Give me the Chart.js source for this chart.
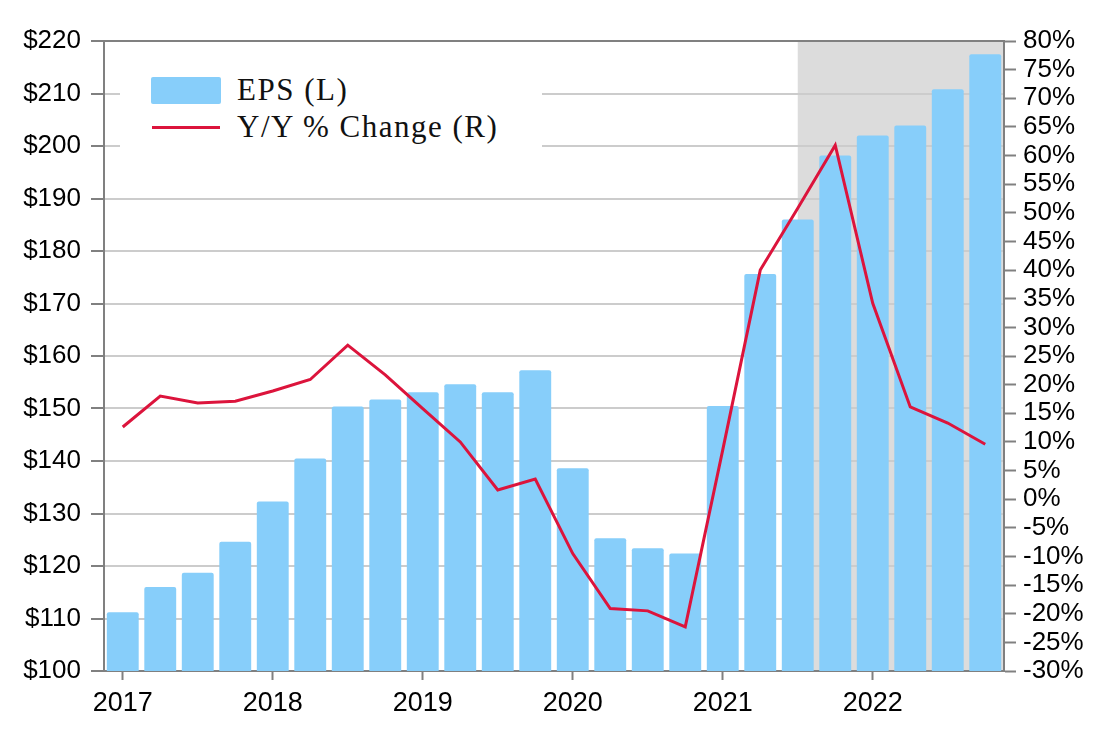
<!DOCTYPE html>
<html>
<head>
<meta charset="utf-8">
<script src="https://cdn.jsdelivr.net/npm/chart.js@4.4.1/dist/chart.umd.min.js"></script>
<style>
  html, body { margin: 0; padding: 0; background: #fff; }
  #wrap { position: relative; width: 1108px; height: 736px; }
  #legend {
    position: absolute; left: 120px; top: 55px; width: 422px; height: 110px;
    background: #fff;
  }
  .sw-bar { position: absolute; left: 31px; top: 22px; width: 70px; height: 27px; background: #87cefa; border-radius: 2px; }
  .sw-line { position: absolute; left: 32px; top: 71px; width: 68px; height: 3px; background: #dc143c; }
  .lg-text {
    position: absolute; left: 117px; font-family: "Liberation Serif", serif; font-size: 31px;
    line-height: normal; color: #111; letter-spacing: 1.5px; white-space: nowrap;
  }
</style>
</head>
<body>
<div id="wrap">
  <canvas id="chart"></canvas>
  <div id="legend">
    <div class="sw-bar"></div>
    <div class="lg-text" style="top:17px">EPS (L)</div>
    <div class="sw-line"></div>
    <div class="lg-text" style="top:54px">Y/Y % Change (R)</div>
  </div>
</div>
<script>
const quarters = [
  '2017 Q1', '2017 Q2', '2017 Q3', '2017 Q4',
  '2018 Q1', '2018 Q2', '2018 Q3', '2018 Q4',
  '2019 Q1', '2019 Q2', '2019 Q3', '2019 Q4',
  '2020 Q1', '2020 Q2', '2020 Q3', '2020 Q4',
  '2021 Q1', '2021 Q2', '2021 Q3', '2021 Q4',
  '2022 Q1', '2022 Q2', '2022 Q3', '2022 Q4'
];

// EPS, dollars (left axis)
const eps = [111.2, 116.0, 118.7, 124.6, 132.3, 140.5, 150.4, 151.7,
             153.1, 154.6, 153.1, 157.3, 138.6, 125.3, 123.4, 122.4,
             150.5, 175.6, 186.0, 198.2, 202.0, 203.9, 210.8, 217.5];

// year over year change, percent (right axis)
const yoyChange = [12.6, 18.0, 16.8, 17.1, 18.9, 20.9, 26.9, 21.7,
                   15.8, 10.0, 1.6, 3.5, -9.5, -19.1, -19.5, -22.3,
                   8.6, 40.0, 50.8, 61.8, 34.2, 16.1, 13.3, 9.6];

const shadeFrom = '2021 Q3'; // estimate period starts here

const tickFont = { family: '"Liberation Sans", Arial, sans-serif', size: 26 };
const axisGray = '#808080';

// grey estimate band + top frame line
const shadePlugin = {
  id: 'shade',
  beforeDraw(chart) {
    const { ctx, chartArea } = chart;
    const x = chart.scales.x.getPixelForValue(quarters.indexOf(shadeFrom));
    ctx.save();
    ctx.fillStyle = '#dcdcdc';
    ctx.fillRect(x, chartArea.top, chartArea.right - x, chartArea.bottom - chartArea.top);
    ctx.restore();
  },
  afterDraw(chart) {
    const { ctx, chartArea } = chart;
    ctx.save();
    ctx.strokeStyle = axisGray;
    ctx.lineWidth = 2;
    ctx.beginPath();
    ctx.moveTo(chartArea.left - 1, chartArea.top);
    ctx.lineTo(chartArea.right + 1, chartArea.top);
    ctx.stroke();
    ctx.restore();
  }
};

new Chart(document.getElementById('chart'), {
  type: 'bar',
  data: {
    labels: quarters,
    datasets: [
      {
        type: 'line',
        label: 'Y/Y % Change (R)',
        data: yoyChange,
        yAxisID: 'y1',
        borderColor: '#dc143c',
        borderWidth: 3,
        pointRadius: 0,
        tension: 0,
        order: 0
      },
      {
        label: 'EPS (L)',
        data: eps,
        yAxisID: 'y',
        backgroundColor: '#87cefa',
        borderRadius: 2,
        borderSkipped: 'bottom',
        barPercentage: 0.85,
        categoryPercentage: 1,
        order: 1
      }
    ]
  },
  options: {
    responsive: true,
    maintainAspectRatio: false,
    animation: false,
    layout: { padding: { top: 41, left: 0, right: 0, bottom: 0 } },
    plugins: { legend: { display: false }, tooltip: { enabled: false } },
    scales: {
      x: {
        grid: {
          offset: false,
          drawOnChartArea: false,
          tickLength: 9,
          tickWidth: 2,
          tickColor: c => (c.index % 4 === 0 ? axisGray : 'rgba(0,0,0,0)')
        },
        border: { color: axisGray, width: 2 },
        ticks: {
          autoSkip: false,
          maxRotation: 0,
          padding: 7,
          color: '#000',
          font: { family: tickFont.family, size: 27 },
          callback: (v, i) => (i % 4 === 0 ? quarters[i].slice(0, 4) : '')
        },
        afterFit: s => { s.height = 65; }
      },
      y: {
        position: 'left',
        min: 100, max: 220,
        ticks: {
          stepSize: 10,
          autoSkip: false,
          padding: 10,
          color: '#000',
          font: tickFont,
          callback: v => '$' + v
        },
        grid: { color: '#cccccc', lineWidth: 2, tickLength: 13, tickColor: axisGray, tickWidth: 2 },
        border: { color: axisGray, width: 2 },
        afterFit: s => { s.width = 104; }
      },
      y1: {
        position: 'right',
        min: -30, max: 80,
        ticks: {
          stepSize: 5,
          autoSkip: false,
          padding: 7,
          color: '#000',
          font: tickFont,
          callback: v => v + '%'
        },
        grid: { drawOnChartArea: false, tickLength: 12, tickColor: axisGray, tickWidth: 2 },
        border: { color: axisGray, width: 2 },
        afterFit: s => { s.width = 104; }
      }
    }
  },
  plugins: [shadePlugin]
});
</script>
</body>
</html>
